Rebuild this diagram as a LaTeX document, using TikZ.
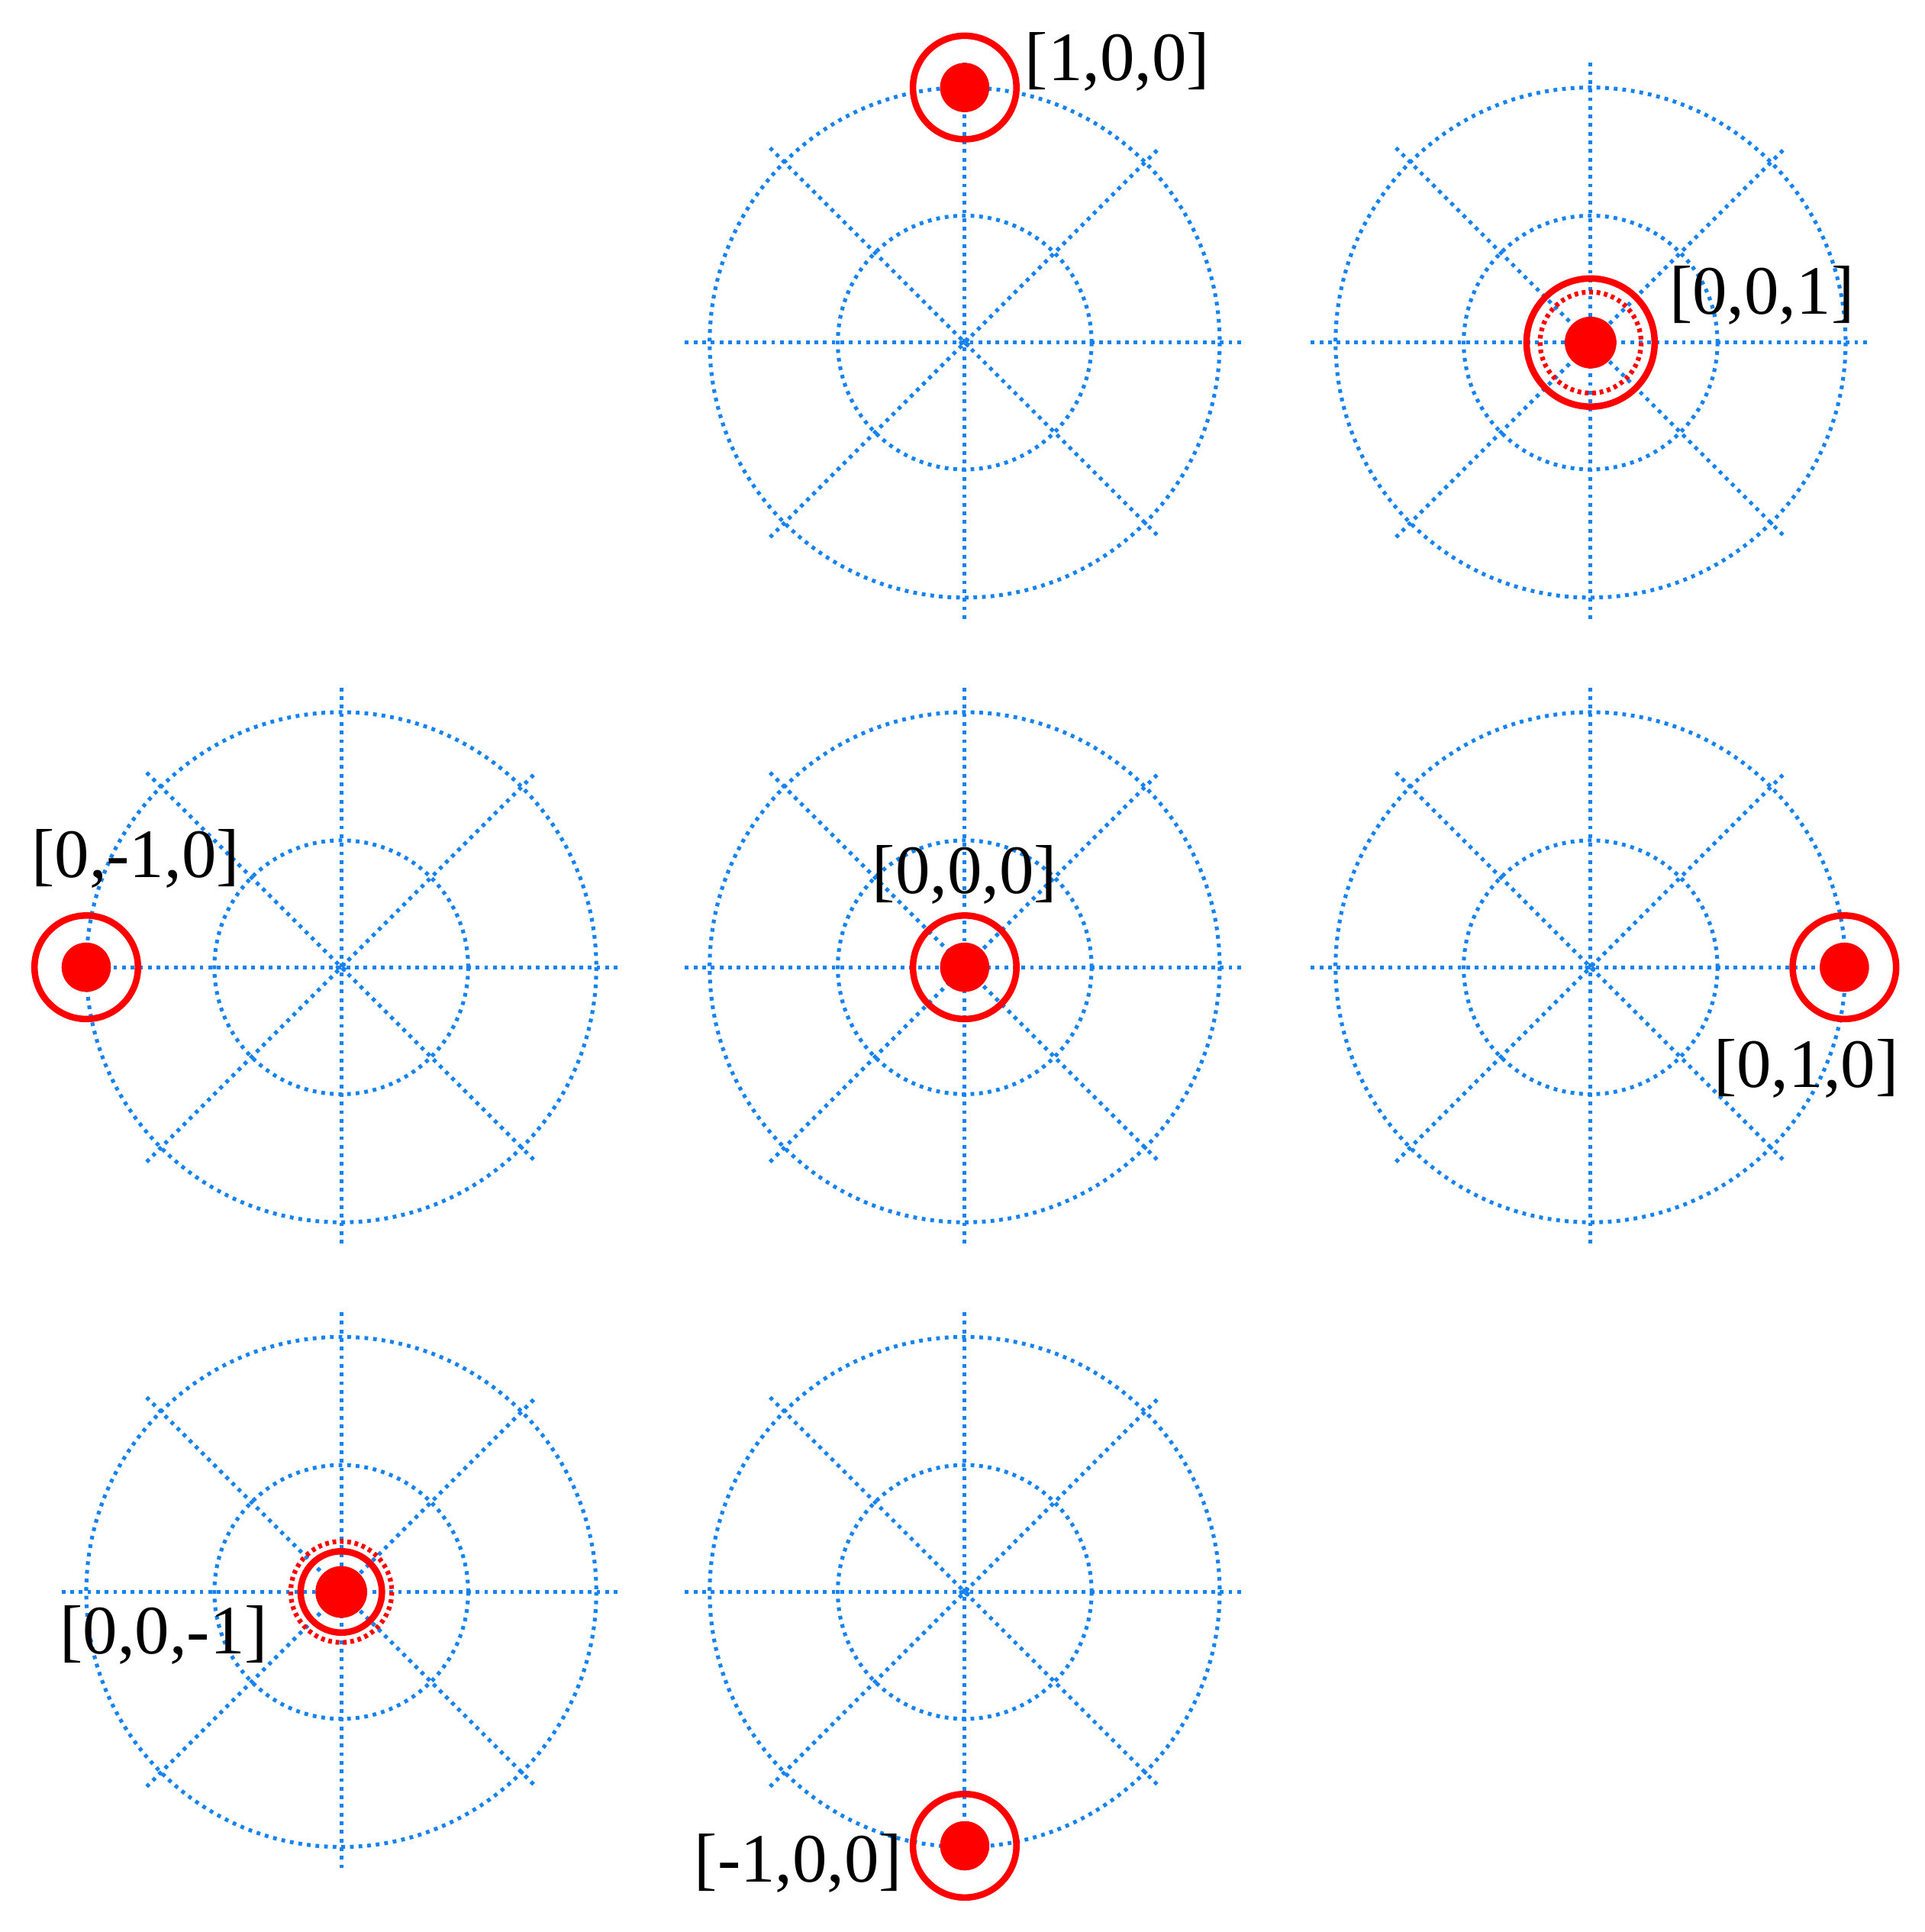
\documentclass[tikz,border=0pt]{standalone}
\usepackage{fontspec}
\setmainfont{Liberation Serif}
\begin{document}
\begin{tikzpicture}[x=0.01cm,y=-0.01cm,
  grid/.style={draw={rgb,255:red,20;green,130;blue,240},line width=0.9pt,dash pattern=on 0.03cm off 0.04cm},
  ring/.style={draw=red,line width=1.5pt},
  dring/.style={draw=red,line width=1.1pt,dash pattern=on 0.03cm off 0.03cm},
  dot/.style={fill=red},
  lab/.style={font=\fontsize{16pt}{17pt}\selectfont,inner sep=0pt}]
\useasboundingbox (0,0) rectangle (1562,1568);
\foreach \cx/\cy [count=\i] in {783/278,1291/278,277/785,783/785,1291/785,277/1292,783/1292}{
  \coordinate (c\i) at (\cx,\cy);
  \draw[grid] (c\i) circle (207);
  \draw[grid] (c\i) circle (103);
  \draw[grid] (\cx-227,\cy) -- (\cx+227,\cy);
  \draw[grid] (\cx,\cy-227) -- (\cx,\cy+227);
  \draw[grid] (\cx-158,\cy-158) -- (\cx+158,\cy+158);
  \draw[grid] (\cx-158,\cy+158) -- (\cx+158,\cy-158);
  \draw[grid] (c\i) circle (3);
}
% [1,0,0]
\coordinate (p1) at (783,71);
\draw[ring] (p1) circle (42); \fill[dot] (p1) circle (20);
\node[lab] (l1) at (907,50) {[1,0,0]};
% [0,0,1]
\coordinate (p2) at (1291,278);
\draw[ring] (p2) circle (52); \draw[dring] (p2) circle (41); \fill[dot] (p2) circle (21);
\node[lab] (l2) at (1430,240) {[0,0,1]};
% [0,-1,0]
\coordinate (p3) at (70,785);
\draw[ring] (p3) circle (42); \fill[dot] (p3) circle (20);
\node[lab] (l3) at (110,697) {[0,-1,0]};
% [0,0,0]
\coordinate (p4) at (783,785);
\draw[ring] (p4) circle (42); \fill[dot] (p4) circle (20);
\node[lab] (l4) at (783,710) {[0,0,0]};
% [0,1,0]
\coordinate (p5) at (1497,785);
\draw[ring] (p5) circle (42); \fill[dot] (p5) circle (20);
\node[lab] (l5) at (1466,867) {[0,1,0]};
% [0,0,-1]
\coordinate (p6) at (277,1292);
\draw[ring] (p6) circle (33); \draw[dring] (p6) circle (41); \fill[dot] (p6) circle (21);
\node[lab] (l6) at (133,1327) {[0,0,-1]};
% [-1,0,0]
\coordinate (p7) at (783,1498);
\draw[ring] (p7) circle (42); \fill[dot] (p7) circle (20);
\node[lab] (l7) at (648,1512) {[-1,0,0]};
\end{tikzpicture}
\end{document}
